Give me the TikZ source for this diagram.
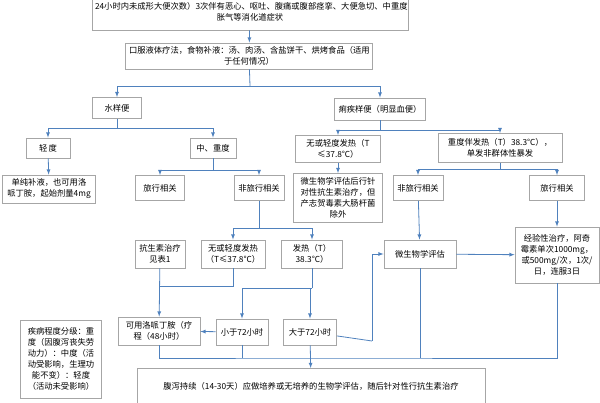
\documentclass[tikz,border=0pt]{standalone}
\usepackage{fontspec}
\setmainfont{Noto Sans CJK SC}
\definecolor{linkblue}{RGB}{79,129,189}
\begin{document}
\begin{tikzpicture}
[x=1pt,y=-1pt,
  boxdecorate/.style={draw=gray!70,thick,fill=white,align=center,inner sep=2pt,
    font=\fontsize{8.3}{11}\selectfont},%
  linedecorate/.style={-latex,thick,draw=linkblue},
  plaindecorate/.style={-,thick,draw=linkblue}]
\useasboundingbox (0,0) rectangle (600,403);
%%% upper part
% nodes or boxes
\node (top) at (250,12) [boxdecorate,minimum width=316,minimum height=36,text width=310]
  {24小时内未成形大便次数）3次伴有恶心、呕吐、腹痛或腹部痉挛、大便急切、中重度\\胀气等消化道症状};
\node (oral) at (249,56) [boxdecorate,minimum width=247,minimum height=26,text width=240]
  {口服液体疗法，食物补液：汤、肉汤、含盐饼干、烘烤食品（适用\\于任何情况）};
\node (water) at (117,108) [boxdecorate,minimum width=49,minimum height=21] {水样便};
\node (blood) at (380,109) [boxdecorate,minimum width=91,minimum height=22] {痢疾样便（明显血便）};
\node (mild) at (48,148) [boxdecorate,minimum width=44,minimum height=20] {轻\,度};
\node (severe) at (213,148) [boxdecorate,minimum width=46,minimum height=20] {中、重度};
\node (fluid) at (49,189) [boxdecorate,minimum width=93,minimum height=28,text width=88]
  {单纯补液，也可用洛\\哌丁胺，起始剂量4mg};
\node (travA) at (160,188) [boxdecorate,minimum width=49,minimum height=25] {旅行相关};
\node (nontravA) at (259,188) [boxdecorate,minimum width=50,minimum height=25] {非旅行相关};
\node (lowfevB) at (338,149) [boxdecorate,minimum width=85,minimum height=27,text width=80]
  {无或轻度发热（T\\≤37.8℃）};
\node (hifevB) at (500,148) [boxdecorate,minimum width=124,minimum height=29,text width=120]
  {重度伴发热（T）38.3℃），\\单发非群体性暴发};
\node (microA) at (338,198) [boxdecorate,minimum width=89,minimum height=49,text width=84]
  {微生物学评估后行针\\对性抗生素治疗，但\\产志贺毒素大肠杆菌\\除外};
\node (nontravB) at (418,188) [boxdecorate,minimum width=50,minimum height=25] {非旅行相关};
\node (travB) at (557,188) [boxdecorate,minimum width=55,minimum height=25] {旅行相关};
%%% lower part
\node (anti) at (160,254) [boxdecorate,minimum width=50,minimum height=28,text width=46]
  {抗生素治疗\\见表1};
\node (lowfevA) at (233,254) [boxdecorate,minimum width=64,minimum height=28,text width=60]
  {无或轻度发热\\（T≤37.8℃）};
\node (hifevA) at (312,254) [boxdecorate,minimum width=61,minimum height=28,text width=56]
  {发热（T）\\38.3℃）};
\node (micro) at (420,254) [boxdecorate,minimum width=72,minimum height=28] {微生物学评估};
\node (empir) at (557,255) [boxdecorate,minimum width=84,minimum height=56,text width=80]
  {经验性治疗，阿奇\\霉素单次1000mg，\\或500mg/次，1次/\\日，连服3日};
\node (lopa) at (159,331) [boxdecorate,minimum width=82,minimum height=28,text width=78]
  {可用洛哌丁胺（疗\\程（48小时）};
\node (less) at (242,332) [boxdecorate,minimum width=52,minimum height=26] {小于72小时};
\node (more) at (310,332) [boxdecorate,minimum width=53,minimum height=26] {大于72小时};
\node (grade) at (61,359) [boxdecorate,minimum width=81,minimum height=78,text width=76]
  {疾病程度分级：重\\度（因腹泻丧失劳\\动力）：中度（活\\动受影响，生理功\\能不变）：轻度\\（活动未受影响）};
\node (final) at (311,368) [boxdecorate,minimum width=348,minimum height=36,anchor=north]
  {腹泻持续（14-30天）应做培养或无培养的生物学评估，随后针对性行抗生素治疗};
% connectors
\coordinate (busTop) at (250,86);
\coordinate (busS) at (213,170);
\coordinate (busB) at (380,130);
\coordinate (busN) at (259,228);
\coordinate (joinL) at (233,286);
\coordinate (busF) at (312,288);
\coordinate (turn) at (372,341);
\coordinate (busEnd) at (310,358);
\draw[linedecorate] (top) -- (oral);
\draw[plaindecorate] (oral) -- (busTop);
\draw[linedecorate] (busTop) -| (water);
\draw[linedecorate] (busTop) -| (blood);
\draw[plaindecorate] (water) -- (117,128);
\draw[linedecorate] (117,128) -| (mild);
\draw[linedecorate] (117,128) -| (severe);
\draw[linedecorate] (mild) -- (fluid);
\draw[plaindecorate] (severe) -- (busS);
\draw[linedecorate] (busS) -| (travA);
\draw[linedecorate] (busS) -| (nontravA);
\draw[plaindecorate] (blood) -- (busB);
\draw[linedecorate] (busB) -| (lowfevB);
\draw[linedecorate] (busB) -| (hifevB);
\draw[linedecorate] (lowfevB) -- (microA);
\draw[plaindecorate] (hifevB) -- (500,169);
\draw[linedecorate] (500,169) -| (nontravB);
\draw[linedecorate] (500,169) -| (travB);
\draw[linedecorate] (nontravB) -- (micro);
\draw[linedecorate] (travB) -- (empir);
\draw[linedecorate] (micro) -- (empir);
\draw[plaindecorate] (nontravA) -- (busN);
\draw[linedecorate] (busN) -| (lowfevA);
\draw[linedecorate] (busN) -| (hifevA);
\draw[linedecorate] (anti) -- (lopa);
\draw[plaindecorate] (lowfevA) -- (joinL) -- (159,286);
\draw[plaindecorate] (hifevA) -- (busF);
\draw[linedecorate] (busF) -| (less);
\draw[linedecorate] (busF) -| (more);
\draw[linedecorate] (less) -- (lopa);
\draw[plaindecorate] (more) -- (turn);
\draw[linedecorate] (turn) |- (micro);
\draw[plaindecorate] (lopa) |- (busEnd) -| (empir);
\draw[plaindecorate] (less) -- (242,358);
\draw[plaindecorate] (micro) -- (420,358);
\draw[linedecorate] (more) -- (final);
\end{tikzpicture}
\end{document}
